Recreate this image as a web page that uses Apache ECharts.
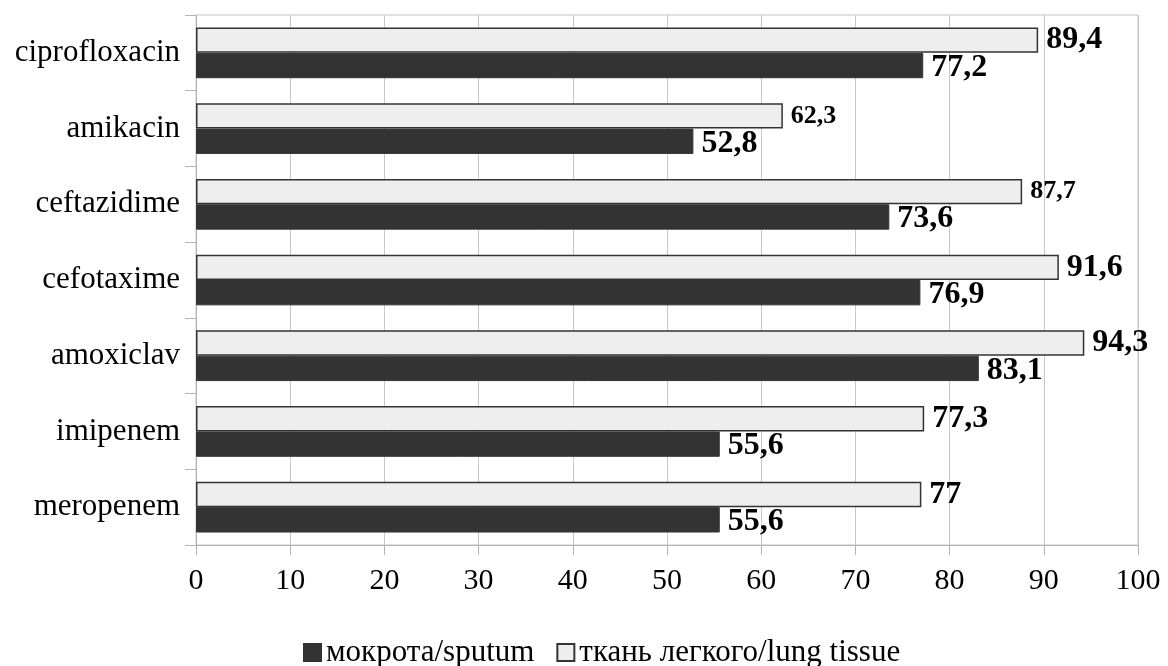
<!DOCTYPE html>
<html>
<head>
<meta charset="utf-8">
<script src="https://cdn.jsdelivr.net/npm/echarts@6/dist/echarts.min.js"></script>
<style>
  html, body { margin: 0; padding: 0; background: #fff; }
  #chart { width: 1168px; height: 666px; }
</style>
</head>
<body>
<div id="chart"></div>
<script>
// Antibiotic sensitivity, % — bottom-to-top category order
const categories = ['meropenem', 'imipenem', 'amoxiclav', 'cefotaxime', 'ceftazidime', 'amikacin', 'ciprofloxacin'];
const sputum = [55.6, 55.6, 83.1, 76.9, 73.6, 52.8, 77.2];
const lungTissue = [77, 77.3, 94.3, 91.6, 87.7, 62.3, 89.4];
const xTicks = [0, 10, 20, 30, 40, 50, 60, 70, 80, 90, 100];
const seriesNames = ['мокрота/sputum', 'ткань легкого/lung tissue'];

// Labels printed in a smaller type on the lung tissue bars
const smallTissueLabels = ['ceftazidime', 'amikacin'];

const FONT = '"Liberation Serif", "Times New Roman", serif';
const fmt = v => String(v).replace('.', ',');

const chart = echarts.init(document.getElementById('chart'));
chart.setOption({
  animation: false,
  textStyle: { fontFamily: FONT, color: '#000' },
  grid: {
    left: 196, right: 30, top: 15, bottom: 121,
    show: true, borderColor: '#c3c3c3', borderWidth: 1, backgroundColor: 'transparent'
  },
  xAxis: {
    type: 'value', min: xTicks[0], max: xTicks[xTicks.length - 1], interval: 10,
    axisLine: { show: true, lineStyle: { color: '#b3b3b3' } },
    axisTick: { show: true, length: 10, lineStyle: { color: '#b3b3b3' } },
    splitLine: { show: true, lineStyle: { color: '#c8c8c8' } },
    axisLabel: { fontFamily: FONT, fontSize: 30, color: '#000', margin: 21 }
  },
  yAxis: {
    type: 'category', data: categories,
    axisLine: { show: true, lineStyle: { color: '#b3b3b3' } },
    axisTick: { show: true, length: 11, lineStyle: { color: '#b3b3b3' } },
    splitLine: { show: false },
    axisLabel: { fontFamily: FONT, fontSize: 31, color: '#000', margin: 16, padding: [7, 0, 0, 0] }
  },
  legend: {
    left: 298, top: 632,
    icon: 'rect',
    itemWidth: 17, itemHeight: 17, itemGap: 22,
    textStyle: { fontFamily: FONT, fontSize: 31, color: '#000' },
    data: seriesNames
  },
  series: [
    {
      name: seriesNames[1], type: 'bar', data: lungTissue,
      barGap: '0%', barCategoryGap: '33%',
      itemStyle: { color: '#eeeeee', borderColor: '#333333', borderWidth: 1.5 },
      label: {
        show: true, position: 'right', distance: 8,
        fontFamily: FONT, fontWeight: 'bold', color: '#000',
        formatter: p => smallTissueLabels.includes(p.name) ? '{s|' + fmt(p.value) + '}' : '{b|' + fmt(p.value) + '}',
        rich: {
          b: { fontFamily: FONT, fontSize: 32, fontWeight: 'bold', color: '#000' },
          s: { fontFamily: FONT, fontSize: 26, fontWeight: 'bold', color: '#000' }
        }
      }
    },
    {
      name: seriesNames[0], type: 'bar', data: sputum,
      barGap: '0%', barCategoryGap: '33%',
      itemStyle: { color: '#333333', borderColor: '#333333', borderWidth: 1 },
      label: {
        show: true, position: 'right', distance: 8, offset: [0, 2],
        fontFamily: FONT, fontSize: 32, fontWeight: 'bold', color: '#000',
        formatter: p => fmt(p.value)
      }
    }
  ]
});
</script>
</body>
</html>
